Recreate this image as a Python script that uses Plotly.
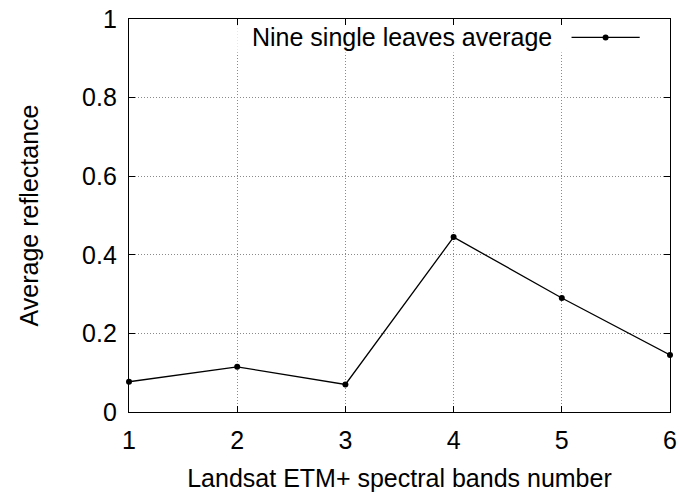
import plotly.graph_objects as go

bands = [1, 2, 3, 4, 5, 6]
reflectance = [0.077, 0.115, 0.070, 0.445, 0.290, 0.145]
series_name = "Nine single leaves average"
x_title = "Landsat ETM+ spectral bands number"
y_title = "Average reflectance"

FONT = "Liberation Sans, Arial, Helvetica, sans-serif"
FS = 25

fig = go.Figure()
fig.add_trace(go.Scatter(
    x=bands, y=reflectance, mode="lines+markers",
    line=dict(color="black", width=1.3),
    marker=dict(color="black", size=6),
    name=series_name, showlegend=False, cliponaxis=False,
))

# gnuplot-style key: white box hiding grid, text then sample
fig.add_shape(type="rect", xref="paper", yref="paper", x0=0.2, x1=0.99, y0=0.915, y1=0.985,
              fillcolor="white", line=dict(width=0), layer="above")
fig.add_annotation(xref="paper", yref="paper", x=0.785, y=0.953, text=series_name,
                   showarrow=False, xanchor="right", yanchor="middle",
                   font=dict(family=FONT, size=FS, color="black"))
fig.add_shape(type="line", xref="paper", yref="paper", x0=0.818, x1=0.944, y0=0.953, y1=0.953,
              line=dict(color="black", width=1.3), layer="above")
fig.add_shape(type="circle", xref="paper", yref="paper",
              x0=0.881 - 0.0055, x1=0.881 + 0.0055, y0=0.953 - 0.0076, y1=0.953 + 0.0076,
              fillcolor="black", line=dict(width=0), layer="above")

axis_common = dict(
    showline=True, linecolor="black", linewidth=1.3, mirror="ticks",
    ticks="inside", ticklen=6, tickcolor="black", tickwidth=1,
    showgrid=True, gridcolor="#8a8a8a", griddash="1px,2px", gridwidth=1,
    zeroline=False, tickfont=dict(family=FONT, size=FS, color="black"),
    automargin=False,
)

fig.update_xaxes(range=[1, 6], dtick=1, tick0=1,
                 title=dict(text=x_title, font=dict(family=FONT, size=FS, color="black"), standoff=17),
                 ticklabelstandoff=6, **axis_common)
fig.update_yaxes(range=[0, 1], dtick=0.2, tick0=0,
                 title=dict(text=y_title, font=dict(family=FONT, size=FS, color="black"), standoff=36),
                 ticklabelstandoff=6, **axis_common)

fig.update_layout(
    width=682, height=492,
    margin=dict(l=129, r=12, t=19, b=80),
    paper_bgcolor="white", plot_bgcolor="white",
    font=dict(family=FONT, size=FS, color="black"),
)

fig.write_html("out.html")
